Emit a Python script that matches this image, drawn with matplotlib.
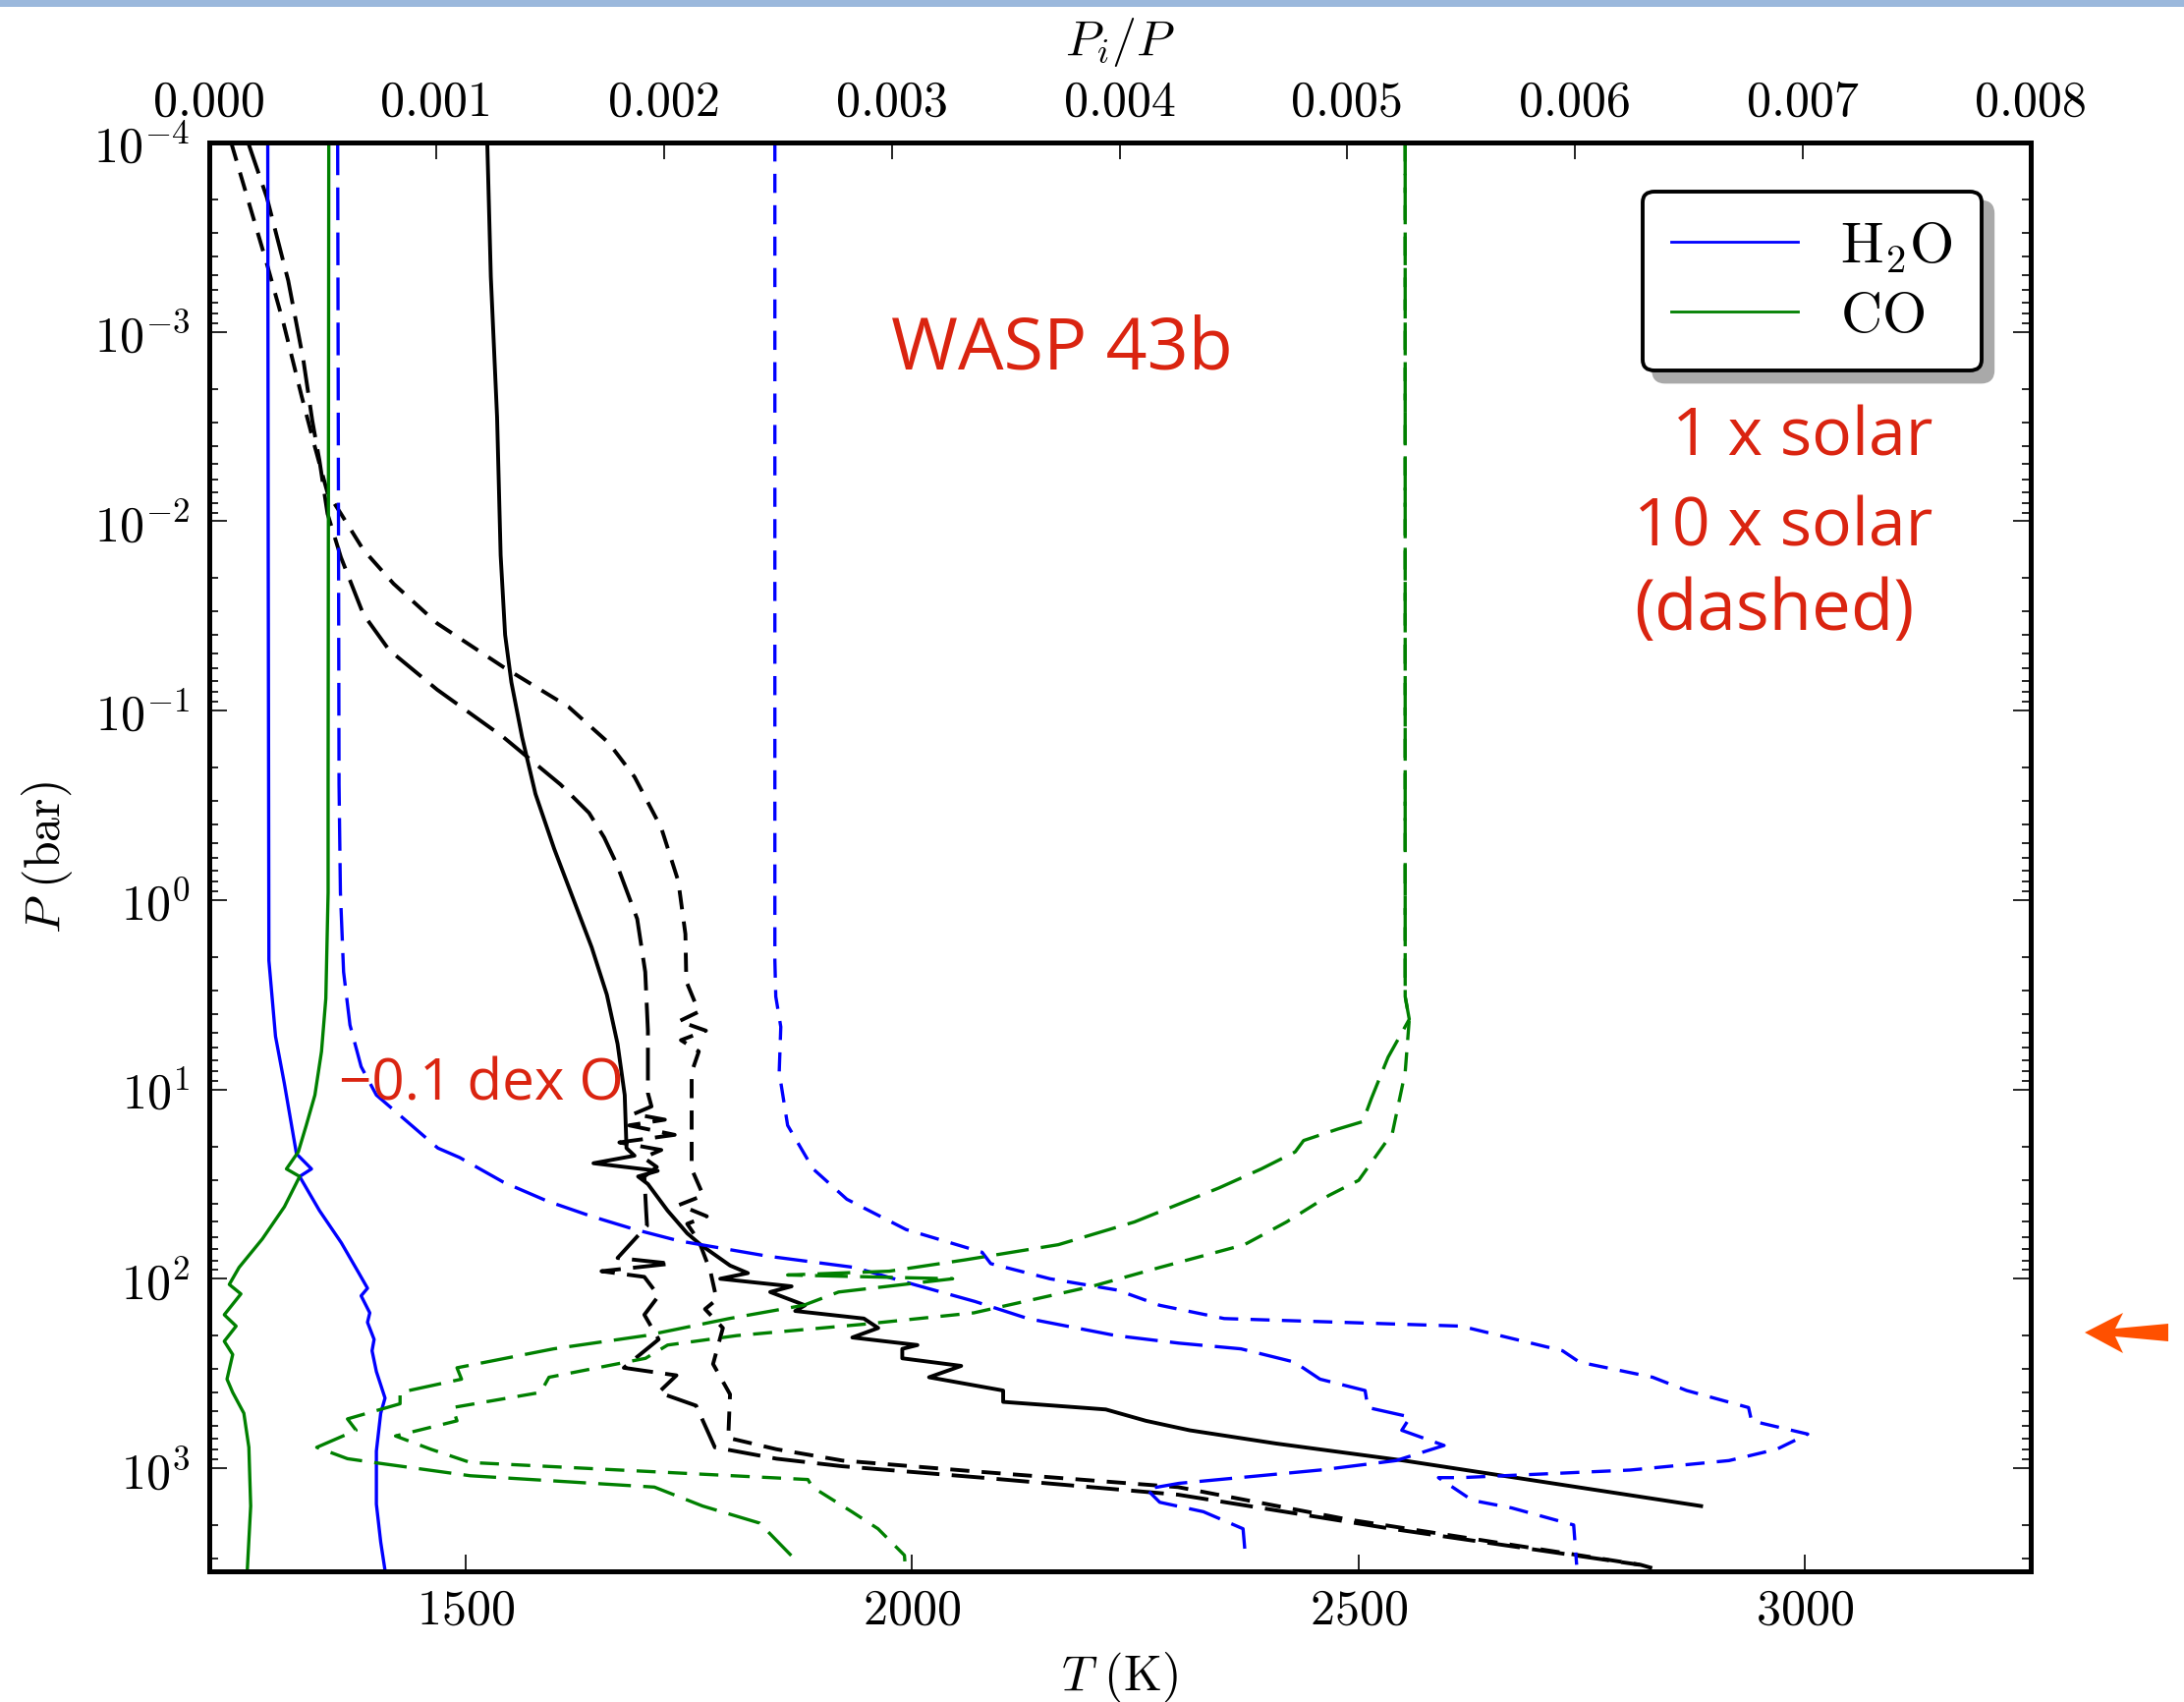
import numpy as np
import matplotlib
matplotlib.use('Agg')
import matplotlib.pyplot as plt
from matplotlib.patches import Shadow, Polygon, Rectangle
from matplotlib.ticker import FormatStrFormatter

plt.rcParams.update({
    'font.family': 'serif',
    'font.serif': ['cmr10'],
    'mathtext.fontset': 'cm',
    'axes.formatter.use_mathtext': True,
    'lines.scale_dashes': False,
})

# ---------------- data ----------------
# temperature-pressure profiles (bottom axis T [K], log10 P [bar])
tp_solid_T = [1524, 1528, 1535, 1539, 1544, 1551, 1563, 1578, 1599, 1620, 1641, 1658, 1670, 1678, 1680,
              1689, 1643, 1715, 1693, 1704, 1726, 1748, 1763, 1796, 1816, 1785, 1865, 1841, 1880, 1869,
              1946, 1962, 1933, 2006, 1989, 1989, 2055, 2019, 2102, 2102, 2217, 2262, 2311, 2408, 2551, 2884]
tp_solid_lp = [-4.0, -3.29, -2.55, -1.82, -1.40, -1.15, -0.86, -0.56, -0.27, -0.01, 0.25, 0.50, 0.76, 1.03, 1.31,
               1.35, 1.39, 1.43, 1.46, 1.50, 1.64, 1.76, 1.82, 1.93, 1.97, 2.00, 2.04, 2.07, 2.14, 2.17,
               2.21, 2.26, 2.31, 2.35, 2.37, 2.42, 2.46, 2.52, 2.59, 2.65, 2.69, 2.75, 2.80, 2.87, 2.96, 3.20]

tp_short_T = [1237, 1257, 1277, 1296, 1316, 1331, 1345, 1360, 1385, 1419, 1468, 1542, 1615, 1660, 1689, 1719,
              1738, 1746, 1747, 1761, 1739, 1769, 1741, 1761, 1753, 1753, 1766, 1739, 1770, 1748, 1761, 1774,
              1781, 1768, 1788, 1777, 1796, 1794, 1848, 1922, 2078, 2298, 2487, 2816, 2831]
tp_short_lp = [-4.0, -3.68, -3.36, -3.04, -2.66, -2.39, -2.15, -2.04, -1.85, -1.67, -1.46, -1.23, -1.02, -0.83,
               -0.65, -0.38, -0.10, 0.18, 0.43, 0.59, 0.64, 0.69, 0.74, 0.80, 0.91, 1.42, 1.56, 1.61, 1.67,
               1.71, 1.80, 1.96, 2.11, 2.16, 2.26, 2.45, 2.61, 2.84, 2.90, 2.96, 3.02, 3.10, 3.27, 3.51, 3.53]

tp_long_T = [1256, 1277, 1301, 1318, 1328, 1336, 1345, 1360, 1385, 1414, 1468, 1542, 1606, 1638, 1655, 1669,
             1692, 1701, 1704, 1704, 1708, 1688, 1723, 1683, 1734, 1672, 1719, 1699, 1714, 1700, 1702, 1703,
             1670, 1730, 1652, 1700, 1716, 1700, 1716, 1677, 1736, 1716, 1758, 1779, 1848, 1922, 2078,
             2298, 2537, 2815]
tp_long_lp = [-4.0, -3.71, -3.27, -2.85, -2.53, -2.32, -2.04, -1.81, -1.51, -1.32, -1.11, -0.86, -0.61, -0.46,
              -0.33, -0.19, 0.10, 0.38, 0.69, 1.02, 1.09, 1.13, 1.16, 1.19, 1.24, 1.28, 1.32, 1.36, 1.41, 1.46,
              1.64, 1.72, 1.89, 1.92, 1.96, 1.99, 2.09, 2.19, 2.32, 2.47, 2.51, 2.60, 2.67, 2.89, 2.95,
              2.99, 3.05, 3.14, 3.32, 3.51]

# abundance profiles (top axis P_i/P in units of 1e-3, log10 P [bar])
h2o_solid_X = [0.259, 0.261, 0.264, 0.293, 0.332, 0.385, 0.451, 0.399, 0.486, 0.582, 0.659, 0.697, 0.669,
               0.707, 0.697, 0.726, 0.717, 0.736, 0.774, 0.755, 0.736, 0.736, 0.755, 0.774]
h2o_solid_lp = [-4.0, -1.82, 0.32, 0.72, 0.97, 1.34, 1.42, 1.46, 1.64, 1.81, 1.97, 2.05, 2.09, 2.18, 2.23,
                2.32, 2.38, 2.49, 2.63, 2.71, 2.91, 3.19, 3.39, 3.54]

co_solid_X = [0.527, 0.524, 0.524, 0.514, 0.495, 0.466, 0.428, 0.393, 0.341, 0.399, 0.332, 0.235, 0.133,
              0.090, 0.141, 0.068, 0.120, 0.068, 0.105, 0.080, 0.105, 0.154, 0.176, 0.184, 0.169]
co_solid_lp = [-4.0, -0.61, -0.04, 0.52, 0.80, 1.03, 1.19, 1.33, 1.42, 1.46, 1.62, 1.79, 1.94, 2.03, 2.08,
               2.19, 2.25, 2.33, 2.40, 2.53, 2.60, 2.71, 2.89, 3.20, 3.54]

h2o_long_X = [0.566, 0.572, 0.578, 0.592, 0.620, 0.669, 0.736, 0.871, 1.006, 1.102, 1.294, 1.487, 1.680,
              1.872, 2.065, 2.258, 2.451, 2.643, 2.835, 3.096, 3.365, 3.597, 3.983, 4.261, 4.533, 4.768,
              4.880, 5.078, 5.090, 5.276, 5.239, 5.425, 5.214, 4.880, 4.261, 4.118, 4.176, 4.368, 4.542, 4.552]
h2o_long_lp = [-4.0, -0.61, -0.04, 0.38, 0.66, 0.88, 1.03, 1.17, 1.31, 1.36, 1.49, 1.59, 1.67, 1.74, 1.80,
               1.84, 1.88, 1.91, 1.94, 2.03, 2.12, 2.21, 2.30, 2.34, 2.37, 2.44, 2.53, 2.59, 2.68, 2.73,
               2.80, 2.88, 2.96, 3.01, 3.08, 3.11, 3.18, 3.23, 3.32, 3.46]

h2o_short_X = [2.486, 2.486, 2.490, 2.512, 2.505, 2.542, 2.654, 2.802, 3.062, 3.396, 3.434, 3.694, 3.991,
               4.176, 4.459, 5.499, 5.945, 6.019, 6.341, 6.490, 6.762, 6.775, 7.022, 6.886, 6.676, 6.242,
               5.499, 5.400, 5.549, 5.722, 5.994, 6.007]
h2o_short_lp = [-4.0, 0.32, 0.51, 0.67, 0.91, 1.19, 1.42, 1.58, 1.74, 1.86, 1.92, 2.00, 2.06, 2.14, 2.21,
                2.25, 2.38, 2.44, 2.52, 2.59, 2.68, 2.75, 2.82, 2.90, 2.96, 3.01, 3.05, 3.05, 3.17, 3.21,
                3.30, 3.51]

co_long_X = [5.254, 5.254, 5.272, 5.179, 5.105, 5.068, 4.957, 4.808, 4.771, 4.622, 4.437, 4.065, 3.731,
             3.322, 2.988, 2.542, 3.267, 2.766, 2.612, 2.285, 1.918, 1.514, 1.090, 1.110, 0.840, 0.840,
             0.609, 0.647, 0.474, 0.609, 0.724, 1.148, 1.957, 2.169, 2.419, 2.573]
co_long_lp = [-4.0, 0.51, 0.63, 0.83, 1.05, 1.17, 1.21, 1.27, 1.33, 1.42, 1.52, 1.70, 1.82, 1.90, 1.96,
              1.98, 2.00, 2.07, 2.14, 2.21, 2.30, 2.37, 2.47, 2.53, 2.60, 2.66, 2.74, 2.80, 2.89, 2.95,
              2.97, 3.04, 3.10, 3.20, 3.29, 3.48]

co_short_X = [5.254, 5.254, 5.272, 5.254, 5.198, 5.050, 4.919, 4.733, 4.548, 4.177, 3.879, 3.359, 2.876,
              2.319, 2.015, 1.918, 1.494, 1.457, 1.071, 1.090, 0.820, 0.975, 1.148, 2.631, 2.651, 2.824,
              2.939, 3.055, 3.059]
co_short_lp = [-4.0, 0.51, 0.63, 0.91, 1.23, 1.48, 1.56, 1.70, 1.82, 1.94, 2.04, 2.18, 2.24, 2.30, 2.35,
               2.42, 2.52, 2.60, 2.68, 2.75, 2.83, 2.90, 2.97, 3.06, 3.10, 3.23, 3.32, 3.46, 3.53]

T_ticks = [1500, 2000, 2500, 3000]
X_ticks = [0.000, 0.001, 0.002, 0.003, 0.004, 0.005, 0.006, 0.007, 0.008]
legend_labels = [r'$\mathrm{H_2O}$', r'$\mathrm{CO}$']

# ---------------- figure ----------------
fig = plt.figure(figsize=(22.23, 17.33), dpi=100, facecolor='white')
ax = fig.add_axes([0.0956, 0.0768, 0.8341, 0.8390])
ax2 = ax.twiny()

SHORT = (14, 9)
LONG = (24, 9)
lwk = 2.8
lwc = 2.4

def P(lp):
    return 10 ** np.asarray(lp, dtype=float)

def X(v):
    return np.asarray(v, dtype=float) * 1e-3

ax.plot(tp_solid_T, P(tp_solid_lp), color='k', lw=lwk)
ax.plot(tp_long_T, P(tp_long_lp), color='k', lw=lwk, dashes=LONG)
ax.plot(tp_short_T, P(tp_short_lp), color='k', lw=lwk, dashes=SHORT)

ax.set_yscale('log')
ax.set_xlim(1212, 3253)
ax.set_ylim(3500, 1e-4)
ax.set_xticks(T_ticks)

blue = '#0000ff'
green = '#008000'
ax2.plot(X(h2o_solid_X), P(h2o_solid_lp), color=blue, lw=lwc, label=legend_labels[0])
ax2.plot(X(co_solid_X), P(co_solid_lp), color=green, lw=lwc, label=legend_labels[1])
ax2.plot(X(h2o_long_X), P(h2o_long_lp), color=blue, lw=lwc, dashes=LONG)
ax2.plot(X(h2o_short_X), P(h2o_short_lp), color=blue, lw=lwc, dashes=SHORT)
ax2.plot(X(co_long_X), P(co_long_lp), color=green, lw=lwc, dashes=LONG)
ax2.plot(X(co_short_X), P(co_short_lp), color=green, lw=lwc, dashes=SHORT)
ax2.set_xlim(0, 0.008)
ax2.set_xticks(X_ticks)
ax2.xaxis.set_major_formatter(FormatStrFormatter('%.3f'))
ax2.set_ylim(3500, 1e-4)

for a in (ax, ax2):
    for s in a.spines.values():
        s.set_linewidth(3.5)

ax.tick_params(axis='x', which='major', direction='in', length=12, width=1.2,
               labelsize=36, pad=12, top=False, bottom=True)
ax.tick_params(axis='y', which='both', direction='in', left=True, right=True,
               labelsize=36, pad=14)
ax.tick_params(axis='y', which='major', length=13, width=1.2)
ax.tick_params(axis='y', which='minor', length=6.5, width=1.2)
ax2.tick_params(axis='x', which='major', direction='in', length=12, width=1.2,
                labelsize=36, pad=13)

ax.set_xlabel(r'$T\ (\mathrm{K})$', fontsize=36, labelpad=12)
ax2.set_xlabel(r'$P_i/P$', fontsize=36, labelpad=19)
ax.set_ylabel(r'$P\ (\mathrm{bar})$', fontsize=36, labelpad=14)

leg = ax2.legend(loc='upper right', fontsize=42, frameon=True, fancybox=True,
                 borderaxespad=0.85, borderpad=0.5, labelspacing=0.3,
                 handlelength=2.2, handletextpad=0.75, framealpha=1)
leg.get_frame().set_edgecolor('k')
leg.get_frame().set_linewidth(2.8)
for ln in leg.get_lines():
    ln.set_linewidth(2.0)
sh = Shadow(leg.legendPatch, 8, -8, facecolor='#a9a9a9', edgecolor='#a9a9a9', alpha=1, zorder=4.9)
ax2.add_artist(sh)

red = '#da2410'
rfam = ['Open Sans', 'DejaVu Sans']
ax2.text(0.3747, 0.842, 'WASP 43b', transform=ax.transAxes, color=red, fontsize=53,
         family=rfam, ha='left', va='baseline', zorder=6)
ax2.text(0.9466, 0.7816, '1 x solar', transform=ax.transAxes, color=red, fontsize=49,
         family=rfam, ha='right', va='baseline', zorder=6)
ax2.text(0.9466, 0.7182, '10 x solar', transform=ax.transAxes, color=red, fontsize=49,
         family=rfam, ha='right', va='baseline', zorder=6)
ax2.text(0.7823, 0.6597, '(dashed)', transform=ax.transAxes, color=red, fontsize=51,
         family=rfam, ha='left', va='baseline', zorder=6)
ax2.text(0.0712, 0.3302, '\u22120.1 dex O', transform=ax.transAxes, color=red, fontsize=42,
         family=rfam, ha='left', va='baseline', zorder=6)

# slide decorations: top bar and orange arrow
W, H = 2223.0, 1733.0
fig.patches.append(Rectangle((0, 1 - 8 / H), 1, 8 / H, transform=fig.transFigure,
                             facecolor='#9bb8dc', edgecolor='none'))
arrow_px = [(2122, 1357), (2161, 1337), (2153, 1353), (2207, 1348), (2207, 1366),
            (2153, 1361), (2161, 1378)]
fig.patches.append(Polygon([(x / W, 1 - y / H) for x, y in arrow_px], closed=True,
                           transform=fig.transFigure, facecolor='#ff5000', edgecolor='none'))

fig.canvas.draw()
fig.savefig('out.png', dpi=100, facecolor='white')
